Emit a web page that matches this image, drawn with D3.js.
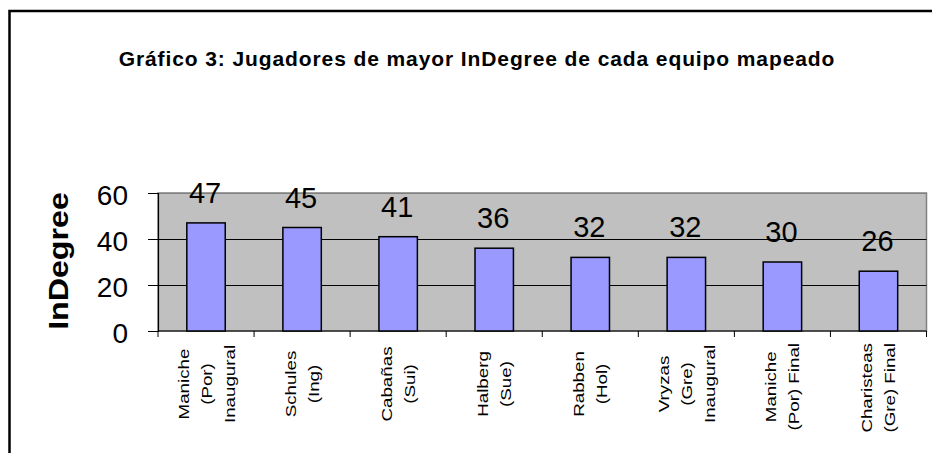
<!DOCTYPE html>
<html>
<head>
<meta charset="utf-8">
<script src="https://cdn.jsdelivr.net/npm/d3@7"></script>
<style>
  html, body { margin: 0; padding: 0; background: #fff; }
  svg { display: block; }
  text { font-family: "Liberation Sans", Arial, sans-serif; }
</style>
</head>
<body>
<svg id="chart" width="932" height="453"></svg>
<script>
// ---- data ----
const titleText = "Gráfico 3: Jugadores de mayor InDegree de cada equipo mapeado";
const yAxisTitle = "InDegree";
const categories = [
  ["Maniche", "(Por)", "Inaugural"],
  ["Schules", "(Ing)"],
  ["Cabañas", "(Sui)"],
  ["Halberg", "(Sue)"],
  ["Rabben", "(Hol)"],
  ["Vryzas", "(Gre)", "Inaugural"],
  ["Maniche", "(Por) Final"],
  ["Charisteas", "(Gre) Final"]
];
const values = [47, 45, 41, 36, 32, 32, 30, 26];
const yTicks = [0, 20, 40, 60];

// ---- layout ----
const svg = d3.select("#chart");
const plot = { left: 158, right: 926.5, top: 193, bottom: 331 };

// outer chart frame (extends beyond the visible window)
svg.append("rect")
  .attr("x", 9.5).attr("y", 11)
  .attr("width", 1000).attr("height", 1000)
  .attr("fill", "#fff").attr("stroke", "#000").attr("stroke-width", 2.5);

// title
svg.append("text")
  .attr("x", 477).attr("y", 66)
  .attr("text-anchor", "middle")
  .attr("font-size", 21).attr("font-weight", "bold")
  .attr("letter-spacing", 0.9)
  .attr("fill", "#000")
  .text(titleText);

const x = d3.scaleBand()
  .domain(d3.range(categories.length))
  .range([plot.left, plot.right])
  .paddingInner(0.6).paddingOuter(0.3);

const y = d3.scaleLinear().domain([0, 60]).range([plot.bottom, plot.top]);

// plot area
svg.append("rect")
  .attr("x", plot.left).attr("y", plot.top)
  .attr("width", plot.right - plot.left).attr("height", plot.bottom - plot.top)
  .attr("fill", "#C0C0C0").attr("stroke", "#808080").attr("stroke-width", 1.5);

// gridlines
svg.append("g").selectAll("line")
  .data(yTicks.filter(d => d > 0))
  .join("line")
  .attr("x1", plot.left).attr("x2", plot.right)
  .attr("y1", d => Math.round(y(d)) + 0.5).attr("y2", d => Math.round(y(d)) + 0.5)
  .attr("stroke", d => d === 60 ? "#808080" : "#000").attr("stroke-width", 1);

// y axis
const yAxis = d3.axisLeft(y).tickValues(yTicks).tickSize(10).tickPadding(20).tickFormat(d3.format("d"));
const gy = svg.append("g").attr("transform", `translate(${plot.left},0)`).call(yAxis);
gy.select(".domain").attr("stroke", "#000").attr("stroke-width", 1.2);
gy.selectAll(".tick line").attr("stroke", "#000");
gy.selectAll(".tick text")
  .attr("font-size", 28).attr("font-family", "'Liberation Sans', Arial, sans-serif")
  .attr("fill", "#000").attr("dy", "0.42em");

// x axis line + ticks at band boundaries
const boundaries = d3.range(categories.length + 1).map(i => plot.left + i * x.step());
svg.append("line")
  .attr("x1", plot.left).attr("x2", plot.right)
  .attr("y1", plot.bottom).attr("y2", plot.bottom)
  .attr("stroke", "#000").attr("stroke-width", 1.2);
svg.append("g").selectAll("line")
  .data(boundaries).join("line")
  .attr("x1", d => d).attr("x2", d => d)
  .attr("y1", plot.bottom).attr("y2", plot.bottom + 6)
  .attr("stroke", "#000");

// bars
svg.append("g").selectAll("rect")
  .data(values).join("rect")
  .attr("x", (d, i) => x(i)).attr("width", x.bandwidth())
  .attr("y", d => y(d)).attr("height", d => y(0) - y(d))
  .attr("fill", "#9999FF").attr("stroke", "#000").attr("stroke-width", 1.5);

// value labels
svg.append("g").selectAll("text")
  .data(values).join("text")
  .attr("x", (d, i) => x(i) + x.bandwidth() / 2 - 1)
  .attr("y", d => y(d) - 20)
  .attr("text-anchor", "middle")
  .attr("font-size", 29).attr("fill", "#000")
  .text(d => d);

// y axis title
svg.append("text")
  .attr("transform", `translate(68,261) rotate(-90) scale(1.15,1)`)
  .attr("text-anchor", "middle")
  .attr("font-size", 28).attr("font-weight", "bold").attr("fill", "#000")
  .text(yAxisTitle);

// category labels (rotated, multi-line)
const stretch = 1.25;
const lineGap = 23;
categories.forEach((lines, i) => {
  const cx = x(i) + x.bandwidth() / 2;
  const g = svg.append("g");
  const t = g.append("text")
    .attr("text-anchor", "middle")
    .attr("font-size", 15).attr("fill", "#000");
  lines.forEach((ln, j) => {
    t.append("tspan")
      .attr("x", 0)
      .attr("y", (j - (lines.length - 1) / 2) * lineGap + 5.5)
      .text(ln);
  });
  let maxLen = 0;
  t.selectAll("tspan").each(function () {
    maxLen = Math.max(maxLen, this.getComputedTextLength());
  });
  const cy = Math.max(384, 343 + (maxLen * stretch) / 2);
  g.attr("transform", `translate(${cx},${cy}) rotate(-90) scale(${stretch},1)`);
});
</script>
</body>
</html>
